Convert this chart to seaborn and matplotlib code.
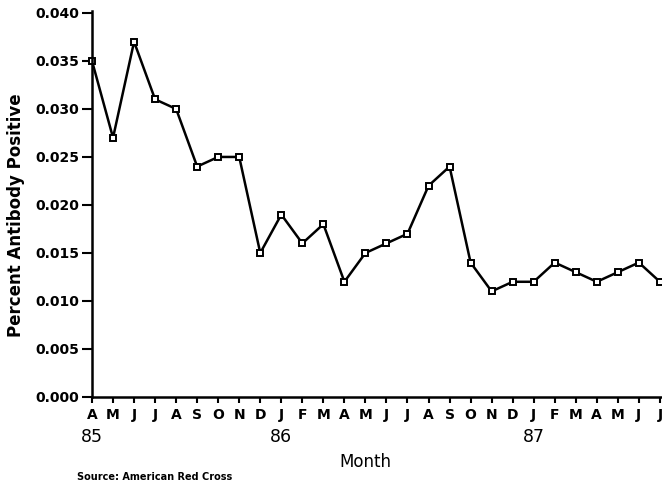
import pandas as pd
import seaborn as sns
import matplotlib.pyplot as plt

months = ["A", "M", "J", "J", "A", "S", "O", "N", "D",
          "J", "F", "M", "A", "M", "J", "J", "A", "S", "O", "N", "D",
          "J", "F", "M", "A", "M", "J", "J"]
pct_positive = [0.035, 0.027, 0.037, 0.031, 0.030, 0.024, 0.025, 0.025, 0.015,
                0.019, 0.016, 0.018, 0.012, 0.015, 0.016, 0.017, 0.022, 0.024,
                0.014, 0.011, 0.012, 0.012, 0.014, 0.013, 0.012, 0.013, 0.014, 0.012]
year_labels = ["85", "86", "87"]
year_pos = [0, 9, 21]  # index of first month shown for each year
yticks = [0.000, 0.005, 0.010, 0.015, 0.020, 0.025, 0.030, 0.035, 0.040]

df = pd.DataFrame({"idx": range(len(months)), "pct": pct_positive})

sns.set_style("ticks")
plt.rcParams['font.family'] = ['DejaVu Sans']
plt.rcParams['text.color'] = 'black'
plt.rcParams['axes.labelcolor'] = 'black'

fig = plt.figure(figsize=(6.62, 4.87), dpi=100)
ax = fig.add_axes([92 / 662, 1 - 397 / 487, 1 - 92 / 662, 386 / 487])

sns.lineplot(data=df, x="idx", y="pct", ax=ax, color="black", linewidth=1.8,
             marker="s", markersize=5, markerfacecolor="white",
             markeredgecolor="black", markeredgewidth=1.4, clip_on=False)

ax.set_xlim(0, 27.1)
ax.set_ylim(0, 0.0402)
ax.set_xticks(range(len(months)))
ax.set_xticklabels(months, fontweight="bold", fontsize=10)
ax.set_yticks(yticks)
ax.set_yticklabels([f"{v:.3f}" for v in yticks], fontweight="bold", fontsize=10)
ax.tick_params(axis="x", direction="out", length=4, width=1.5, pad=4, colors="black")
ax.tick_params(axis="y", direction="out", length=7, width=1.5, pad=2, colors="black")
for s in ["left", "bottom"]:
    ax.spines[s].set_linewidth(1.8)
    ax.spines[s].set_color("black")
sns.despine(ax=ax)

ax.set_xlabel("")
ax.set_ylabel("Percent Antibody Positive", fontsize=12, fontweight="bold", color="black")
ax.yaxis.set_label_coords(-0.117, 0.47)

for lab, pos in zip(year_labels, year_pos):
    ax.text(pos, -0.104, lab, transform=ax.get_xaxis_transform(),
            ha="center", va="center", fontsize=12.5, color="black")

fig.text(365 / 662, 1 - 462 / 487, "Month", ha="center", va="center", fontsize=12,
         color="black")
fig.text(77 / 662, 1 - 477 / 487, "Source: American Red Cross", ha="left", va="center",
         fontsize=7, fontweight="bold", color="black")

fig.savefig("out.png", dpi=100, facecolor="white")
